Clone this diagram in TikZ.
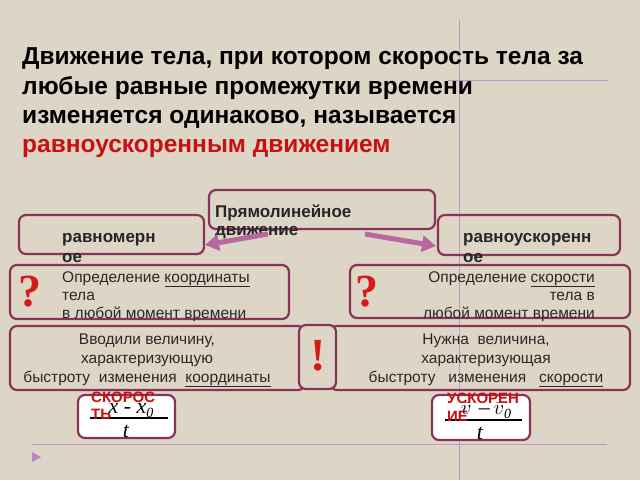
\documentclass[tikz,border=0pt]{standalone}
\usepackage{fontspec}
\setmainfont{Liberation Sans}
\newfontfamily\serifbf{Liberation Serif}[BoldFont=* Bold]
\newfontfamily\serifit{Liberation Serif}
\usetikzlibrary{arrows.meta}
\definecolor{bg}{RGB}{221,214,199}
\definecolor{boxline}{RGB}{135,52,88}
\definecolor{arrowc}{RGB}{184,104,160}
\definecolor{guide}{RGB}{190,150,205}
\definecolor{redtxt}{RGB}{200,16,16}
\definecolor{qred}{RGB}{215,25,25}
\definecolor{gtxt}{RGB}{45,40,40}
\tikzset{
  rbox/.style={draw=boxline, line width=2.2pt, rounded corners=7pt},
  wbox/.style={rbox, fill=white},
  titletxt/.style={anchor=base west, inner sep=0pt, font=\fontsize{24.5}{24.5}\selectfont\bfseries, text=black},
  bold16/.style={anchor=base west, inner sep=0pt, font=\fontsize{17}{17}\selectfont\bfseries, text=black!85},
  reg15/.style={inner sep=0pt, font=\fontsize{15.5}{15.5}\selectfont, text=gtxt},
  redlab/.style={anchor=base west, inner sep=0pt, font=\fontsize{15}{15}\selectfont\bfseries, text=redtxt},
  bigarrow/.style={line width=5pt, draw=arrowc, -{Triangle[length=14pt,width=16pt]}},
  guideline/.style={draw=guide, line width=0.9pt},
  signmark/.style={inner sep=0pt, text=qred}
}
\begin{document}
\begin{tikzpicture}[x=1pt,y=-1pt]
\fill[bg] (0,0) rectangle (640,480);
\useasboundingbox (0,0) rectangle (640,480);
% guide lines
\draw[guideline] (459,20) -- (459,480);
\draw[guideline] (448,80) -- (608,80);
\draw[guideline] (32,444) -- (607,444);
\fill[guide!90!violet] (32,452) -- (41,457) -- (32,462) -- cycle;
% title
\node[titletxt] (t1) at (22,64) {Движение тела, при котором скорость тела за};
\node[titletxt] (t2) at (22,94) {любые равные промежутки времени};
\node[titletxt] (t3) at (22,123) {изменяется одинаково, называется};
\node[titletxt, text=redtxt] (t4) at (22,152) {равноускоренным движением};
% top box
\draw[rbox] (209,190) rectangle (435,229);
\node[bold16] (pr1) at (215,217) {Прямолинейное};
\node[bold16] (pr2) at (215,235) {движение};
% second row boxes
\draw[rbox] (19,215) rectangle (204,254);
\node[bold16] (rm1) at (62,242) {равномерн};
\node[bold16] (rm2) at (62,262) {ое};
\draw[rbox] (438,215) rectangle (620,255);
\node[bold16] (ru1) at (463,242) {равноускоренн};
\node[bold16] (ru2) at (463,262) {ое};
% arrows
\coordinate (la) at (268,234);
\coordinate (lb) at (205,245);
\coordinate (ra) at (365,234);
\coordinate (rb) at (436,246);
\draw[bigarrow] (la) -- (lb);
\draw[bigarrow] (ra) -- (rb);
% third row
\draw[rbox] (10,265) rectangle (289,319);
\node[signmark, font=\fontsize{46}{46}\selectfont\serifbf\bfseries] (q1) at (30,292) {?};
\node[reg15, anchor=base west] (d1) at (62,282) {Определение \underline{координаты}};
\node[reg15, anchor=base west] (d2) at (62,300) {тела};
\node[reg15, anchor=base west] (d3) at (62,318) {в любой момент времени};
\draw[rbox] (350,265) rectangle (630,318);
\node[signmark, font=\fontsize{46}{46}\selectfont\serifbf\bfseries] (q2) at (367,292) {?};
\node[reg15, anchor=base east] (e1) at (595,282) {Определение \underline{скорости}};
\node[reg15, anchor=base east] (e2) at (595,300) {тела в};
\node[reg15, anchor=base east] (e3) at (595,318) {любой момент времени};
% fourth row
\draw[rbox] (10,326) rectangle (305,390);
\draw[rbox] (330,326) rectangle (630,390);
\draw[rbox, fill=bg] (299,325) rectangle (336,389);
\node[signmark, font=\fontsize{46}{46}\selectfont\serifbf\bfseries] (ex) at (318,356) {!};
\node[reg15, anchor=base] (f1) at (147,344) {Вводили величину,};
\node[reg15, anchor=base] (f2) at (147,363) {характеризующую};
\node[reg15, anchor=base] (f3) at (147,382) {быстроту\ \ изменения\ \ \underline{координаты}};
\node[reg15, anchor=base] (g1) at (486,344) {Нужна\ \ величина,};
\node[reg15, anchor=base] (g2) at (486,363) {характеризующая};
\node[reg15, anchor=base] (g3) at (486,382) {быстроту\ \ \ изменения\ \ \ \underline{скорости}};
% formula boxes
\draw[wbox] (78,395) rectangle (175,438);
\draw[line width=1.2pt] (90,418) -- (168,418);
\node[inner sep=0pt, anchor=base, font=\fontsize{22}{22}\selectfont\serifit\itshape] (n1) at (131,413) {x - x\raisebox{-4pt}{\fontsize{14}{14}\selectfont 0}};
\node[inner sep=0pt, anchor=base, font=\fontsize{22}{22}\selectfont\serifit\itshape] (den1) at (126,437) {t};
\node[redlab] (s1) at (91,402) {СКОРОС};
\node[redlab] (s2) at (91,419) {ТЬ};
\draw[wbox] (432,395) rectangle (530,440);
\draw[line width=1.2pt] (445,420) -- (522,420);
\node[inner sep=0pt, anchor=base, font=\fontsize{22}{22}\selectfont\serifit\itshape] (n2) at (486,414) {$\bar{v}$\,\textup{\,–\,}$\bar{v}$\raisebox{-4pt}{\fontsize{14}{14}\selectfont 0}};
\node[inner sep=0pt, anchor=base, font=\fontsize{22}{22}\selectfont\serifit\itshape] (den2) at (480,439) {t};
\node[redlab] (u1) at (447,403) {УСКОРЕН};
\node[redlab] (u2) at (447,421) {ИЕ};
\end{tikzpicture}
\end{document}
